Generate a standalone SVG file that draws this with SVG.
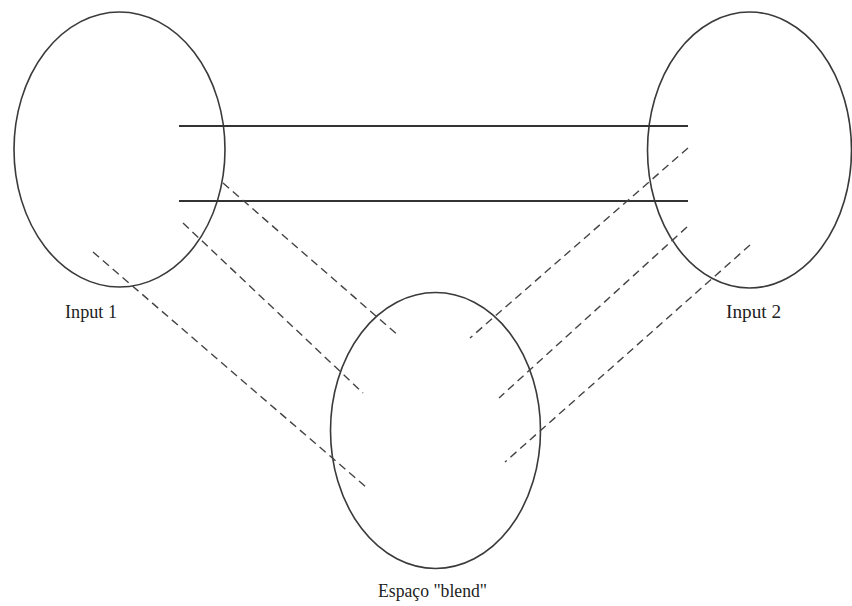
<svg xmlns="http://www.w3.org/2000/svg" width="852" height="606" viewBox="0 0 852 606">
<style>
.node{fill:none;stroke:#3a3a3a;stroke-width:1.6}
.solid{stroke:#333;stroke-width:1.8;fill:none}
.dash{stroke:#444;stroke-width:1.4;stroke-dasharray:8 5;fill:none}
.lbl{font-size:19px;fill:#222}
</style>
<rect width="852" height="606" fill="#fff"/>
<g id="input1">
<ellipse class="node" cx="119.5" cy="149.5" rx="105.5" ry="137.5"/>
<text class="lbl" font-family="'Liberation Serif', 'Times New Roman', serif" x="65" y="318" textLength="52" lengthAdjust="spacingAndGlyphs">Input 1</text>
</g>
<g id="input2">
<ellipse class="node" cx="749.5" cy="150" rx="102" ry="138"/>
<text class="lbl" font-family="'Liberation Serif', 'Times New Roman', serif" x="726" y="318" textLength="55" lengthAdjust="spacingAndGlyphs">Input 2</text>
</g>
<g id="blend">
<ellipse class="node" cx="435.5" cy="430.5" rx="105" ry="138"/>
<text class="lbl" font-family="'Liberation Serif', 'Times New Roman', serif" x="378" y="597" textLength="109" lengthAdjust="spacingAndGlyphs">Espaço "blend"</text>
</g>
<g id="connectors">
<line class="solid" x1="179" y1="126" x2="688" y2="126"/>
<line class="solid" x1="179" y1="201" x2="688" y2="201"/>
<line class="dash" x1="223" y1="183" x2="399" y2="336"/>
<line class="dash" x1="183" y1="223" x2="363" y2="393"/>
<line class="dash" x1="93" y1="252" x2="366" y2="487"/>
<line class="dash" x1="688" y1="148" x2="470" y2="338"/>
<line class="dash" x1="687" y1="227" x2="499" y2="398"/>
<line class="dash" x1="750" y1="245" x2="505" y2="462"/>
</g>
</svg>
